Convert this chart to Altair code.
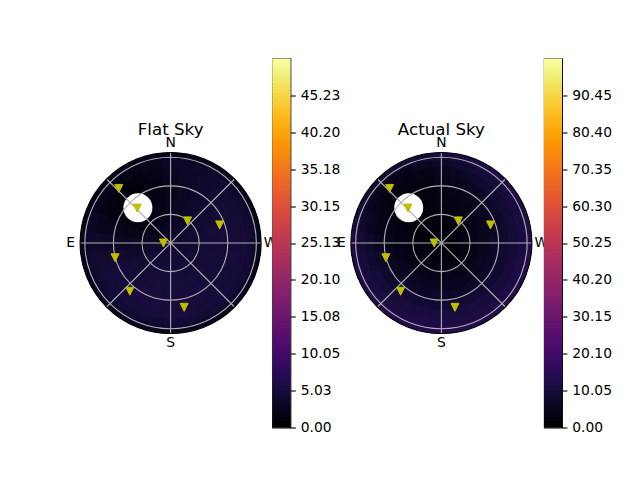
import numpy as np
import pandas as pd
import altair as alt

# ---------------- data ----------------
R_MAX = 95.0                      # zenith-distance limit of the polar axes
R_GRID = [30, 60, 90]             # grid circles
SPOKES = [0, 45, 90, 135]         # radial grid lines (full diameters)
COMPASS = ["N", "E", "S", "W"]
COMPASS_AZ = [0, 90, 180, 270]

SECTOR_AZ = [0, 15, 30, 45, 60, 75, 90, 105, 120, 135, 150, 165,
             180, 195, 210, 225, 240, 255, 270, 285, 300, 315, 330, 345]   # sector centres
SECTOR_HALF = 7.5
RING_EDGES = [0, 10, 20, 30, 40, 50, 60, 70, 80, 87, 91, 95]

# sky brightness per sector (rows) and ring (columns), Flat Sky
FLAT_SKY = [
    [3.6, 3.3, 3.0, 2.7, 2.5, 2.5, 2.6, 2.9, 3.3, 3.0, 2.4],
    [3.4, 3.0, 2.5, 2.0, 1.7, 1.6, 1.7, 2.0, 2.6, 2.6, 2.2],
    [3.2, 2.7, 2.0, 1.4, 1.0, 0.9, 1.0, 1.3, 2.0, 2.2, 2.0],
    [3.2, 2.6, 1.9, 1.2, 0.8, 0.7, 0.8, 1.2, 1.9, 2.1, 2.0],
    [3.3, 2.8, 2.1, 1.5, 1.1, 1.0, 1.2, 1.6, 2.3, 2.4, 2.1],
    [3.5, 3.2, 2.8, 2.3, 2.0, 2.0, 2.2, 2.6, 3.0, 2.9, 2.3],
    [3.8, 3.6, 3.4, 3.2, 3.1, 3.2, 3.4, 3.6, 3.6, 3.3, 2.5],
    [4.0, 4.0, 4.0, 3.9, 3.9, 4.0, 4.1, 4.2, 4.0, 3.5, 2.6],
    [4.2, 4.3, 4.4, 4.5, 4.6, 4.7, 4.7, 4.6, 4.3, 3.7, 2.7],
    [4.3, 4.4, 4.5, 4.7, 4.8, 4.9, 4.9, 4.8, 4.4, 3.8, 2.7],
    [4.3, 4.4, 4.6, 4.8, 4.9, 5.0, 5.0, 4.9, 4.5, 3.8, 2.8],
    [4.3, 4.5, 4.7, 4.9, 5.0, 5.1, 5.1, 5.0, 4.5, 3.9, 2.8],
    [4.3, 4.5, 4.7, 4.9, 5.0, 5.1, 5.2, 5.0, 4.5, 3.9, 2.8],
    [4.3, 4.5, 4.7, 4.9, 5.0, 5.1, 5.1, 5.0, 4.5, 3.9, 2.8],
    [4.3, 4.5, 4.7, 4.8, 5.0, 5.0, 5.0, 4.9, 4.5, 3.8, 2.8],
    [4.2, 4.4, 4.6, 4.8, 4.9, 5.0, 5.0, 4.9, 4.4, 3.8, 2.7],
    [4.2, 4.4, 4.6, 4.7, 4.8, 4.9, 4.9, 4.8, 4.4, 3.8, 2.7],
    [4.1, 4.3, 4.5, 4.6, 4.8, 4.9, 4.9, 4.8, 4.3, 3.7, 2.7],
    [4.1, 4.3, 4.4, 4.5, 4.7, 4.8, 4.8, 4.7, 4.3, 3.7, 2.6],
    [4.0, 4.2, 4.3, 4.4, 4.6, 4.7, 4.7, 4.6, 4.2, 3.6, 2.6],
    [4.0, 4.1, 4.2, 4.3, 4.4, 4.6, 4.6, 4.5, 4.1, 3.6, 2.6],
    [3.9, 4.0, 4.0, 4.1, 4.2, 4.3, 4.4, 4.3, 4.0, 3.5, 2.6],
    [3.8, 3.8, 3.7, 3.7, 3.8, 3.9, 4.0, 4.0, 3.8, 3.4, 2.5],
    [3.7, 3.5, 3.3, 3.2, 3.1, 3.2, 3.3, 3.5, 3.6, 3.2, 2.5],
]

# Actual Sky
ACTUAL_SKY = [
    [1.1, 1.5, 2.0, 2.4, 2.8, 3.2, 4.0, 5.2, 7.0, 9.0, 10.5],
    [1.0, 1.4, 1.8, 2.0, 2.2, 2.5, 3.0, 4.0, 5.8, 8.0, 9.8],
    [1.0, 1.3, 1.5, 1.6, 1.6, 1.8, 2.2, 3.0, 4.8, 7.2, 9.2],
    [1.0, 1.3, 1.5, 1.6, 1.6, 1.7, 2.1, 2.9, 4.6, 7.0, 9.0],
    [1.1, 1.4, 1.7, 1.9, 2.0, 2.3, 3.0, 4.0, 5.6, 7.8, 9.6],
    [1.1, 1.5, 1.9, 2.3, 2.7, 3.2, 4.2, 5.6, 7.2, 9.0, 10.5],
    [1.2, 1.6, 2.2, 2.8, 3.5, 4.4, 5.6, 7.2, 8.8, 10.3, 11.5],
    [1.3, 1.7, 2.4, 3.3, 4.2, 5.3, 6.7, 8.3, 9.8, 11.2, 12.2],
    [1.3, 1.8, 2.6, 3.6, 4.8, 6.2, 7.7, 9.2, 10.6, 11.9, 12.8],
    [1.4, 1.9, 2.8, 3.9, 5.2, 6.6, 8.1, 9.6, 11.0, 12.2, 13.1],
    [1.4, 2.0, 3.0, 4.2, 5.5, 7.0, 8.5, 10.0, 11.3, 12.5, 13.3],
    [1.4, 2.0, 3.0, 4.2, 5.6, 7.1, 8.6, 10.1, 11.4, 12.6, 13.4],
    [1.4, 2.0, 3.0, 4.2, 5.6, 7.1, 8.6, 10.1, 11.4, 12.6, 13.4],
    [1.4, 2.0, 3.0, 4.2, 5.6, 7.1, 8.6, 10.1, 11.4, 12.6, 13.4],
    [1.4, 2.0, 3.0, 4.2, 5.5, 7.0, 8.5, 10.0, 11.3, 12.5, 13.3],
    [1.4, 2.0, 3.0, 4.1, 5.4, 6.9, 8.4, 9.9, 11.2, 12.4, 13.2],
    [1.4, 2.0, 3.0, 4.1, 5.4, 6.8, 8.3, 9.8, 11.1, 12.3, 13.1],
    [1.4, 2.0, 2.9, 4.0, 5.3, 6.7, 8.1, 9.6, 11.0, 12.2, 13.0],
    [1.4, 2.0, 2.9, 4.0, 5.2, 6.6, 8.0, 9.5, 10.9, 12.1, 12.9],
    [1.3, 1.9, 2.8, 3.9, 5.0, 6.3, 7.7, 9.2, 10.6, 11.9, 12.8],
    [1.3, 1.9, 2.7, 3.7, 4.8, 6.0, 7.4, 8.8, 10.3, 11.7, 12.6],
    [1.3, 1.8, 2.6, 3.5, 4.5, 5.6, 6.9, 8.3, 9.8, 11.3, 12.3],
    [1.2, 1.7, 2.4, 3.2, 4.0, 5.0, 6.2, 7.6, 9.2, 10.8, 12.0],
    [1.2, 1.6, 2.2, 2.8, 3.4, 4.1, 5.1, 6.4, 8.1, 9.9, 11.2],
]

STAR_AZ = [43.5, 43.7, 322.6, 290.2, 90.0, 104.9, 139.8, 191.9]
STAR_R = [79.0, 50.7, 29.2, 54.9, 7.6, 60.3, 66.3, 69.0]

MOON_AZ = [42.8]
MOON_R = [50.5]

FLAT_VMAX = 50.252
FLAT_TICKS = [0, 5.0252, 10.0504, 15.0756, 20.1008, 25.126, 30.1512, 35.1764, 40.2016, 45.2268]
ACTUAL_VMAX = 100.5
ACTUAL_TICKS = [0, 10.05, 20.10, 30.15, 40.20, 50.25, 60.30, 70.35, 80.40, 90.45]

# ---------------- layout / style ----------------
PW = 181          # polar disc diameter (px)
H = 369           # panel height (px)
R_PX = PW / 2.0
CB_W = 18
GAP = 11.3
EXTRA_LEFT = 49.2  # extra room on the left of the second polar panel
R_LABEL = 105.0   # compass labels radius (data units)
FONT = "DejaVu Sans"
GRID_C = "#b0b0b0"
STAR_C = "#bfbf00"


def heat_frame(grid):
    rows = []
    n_r = len(RING_EDGES) - 1
    for i, az in enumerate(SECTOR_AZ):
        for j in range(n_r):
            rows.append({
                "t0": 360 - (az + SECTOR_HALF),
                "t1": 360 - (az - SECTOR_HALF) + 0.4,
                "r0": RING_EDGES[j],
                "r1": RING_EDGES[j + 1] + (0.3 if j < n_r - 1 else 0),
                "v": grid[i][j],
            })
    return pd.DataFrame(rows)


def polar(grid, vmax, title, extra_left=0.0):
    width = PW + extra_left
    cscale = alt.Scale(scheme="inferno", domain=[0, vmax])
    rscale = alt.Scale(type="linear", domain=[0, R_MAX], range=[0, R_PX])
    tscale = alt.Scale(domain=[0, 360], range=[0, 2 * np.pi])
    yext = R_MAX * H / PW
    xs = alt.Scale(domain=[-R_MAX - extra_left * R_MAX / R_PX, R_MAX], nice=False, zero=False)
    ys = alt.Scale(domain=[-yext, yext], nice=False, zero=False)
    cx = alt.XDatum(0, scale=xs, axis=None)
    cy = alt.YDatum(0, scale=ys, axis=None)

    base = alt.Chart(pd.DataFrame({"r": [R_MAX], "v": [grid[12][5]]})).mark_arc(
        theta=0, theta2=2 * np.pi
    ).encode(
        x=cx, y=cy,
        radius=alt.Radius("r:Q", scale=rscale, stack=None),
        color=alt.Color("v:Q", scale=cscale, legend=None),
    )

    cells = alt.Chart(heat_frame(grid)).mark_arc().encode(
        x=cx, y=cy,
        theta=alt.Theta("t0:Q", scale=tscale, stack=None),
        theta2="t1:Q",
        radius=alt.Radius("r1:Q", scale=rscale, stack=None),
        radius2="r0:Q",
        color=alt.Color("v:Q", scale=cscale, legend=None),
    )

    def to_xy(ch):
        return ch.transform_calculate(
            x="-datum.r*sin(datum.az*PI/180)",
            y="datum.r*cos(datum.az*PI/180)",
        )

    moon = to_xy(alt.Chart(pd.DataFrame({"az": MOON_AZ, "r": MOON_R}))).mark_point(
        shape="circle", filled=True, color="white", opacity=1, size=841
    ).encode(x=alt.X("x:Q", scale=xs, axis=None), y=alt.Y("y:Q", scale=ys, axis=None))

    rings = alt.Chart(pd.DataFrame({"r": R_GRID})).mark_arc(
        theta=0, theta2=2 * np.pi, filled=False, stroke=GRID_C, strokeWidth=1.1
    ).encode(x=cx, y=cy, radius=alt.Radius("r:Q", scale=rscale, stack=None))

    spokes = alt.Chart(pd.DataFrame({"az": SPOKES})).transform_calculate(
        x=f"-{R_MAX}*sin(datum.az*PI/180)",
        y=f"{R_MAX}*cos(datum.az*PI/180)",
        x2=f"{R_MAX}*sin(datum.az*PI/180)",
        y2=f"-{R_MAX}*cos(datum.az*PI/180)",
    ).mark_rule(color=GRID_C, strokeWidth=1.1).encode(
        x=alt.X("x:Q", scale=xs, axis=None), y=alt.Y("y:Q", scale=ys, axis=None),
        x2="x2:Q", y2="y2:Q",
    )

    spine = alt.Chart(pd.DataFrame({"r": [R_MAX]})).mark_arc(
        theta=0, theta2=2 * np.pi, filled=False, stroke="black", strokeWidth=1.1
    ).encode(x=cx, y=cy, radius=alt.Radius("r:Q", scale=rscale, stack=None))

    stars = to_xy(alt.Chart(pd.DataFrame({"az": STAR_AZ, "r": STAR_R}))).mark_point(
        shape="M0,1L-1,-1L1,-1Z", filled=True, color=STAR_C, stroke=STAR_C,
        strokeWidth=1, opacity=1, size=64
    ).encode(x=alt.X("x:Q", scale=xs, axis=None), y=alt.Y("y:Q", scale=ys, axis=None))

    labels = alt.Chart(pd.DataFrame({"az": COMPASS_AZ, "lab": COMPASS})).transform_calculate(
        x=f"-{R_LABEL}*sin(datum.az*PI/180)",
        y=f"{R_LABEL}*cos(datum.az*PI/180)",
    ).mark_text(font=FONT, fontSize=13.9, color="black", align="center", baseline="middle").encode(
        x=alt.X("x:Q", scale=xs, axis=None), y=alt.Y("y:Q", scale=ys, axis=None), text="lab:N"
    )

    return alt.layer(base, cells, moon, rings, spokes, spine, stars, labels).properties(
        width=width, height=H,
        title=alt.TitleParams(title, font=FONT, fontSize=16.7, fontWeight="normal", color="black",
                              anchor="middle", frame="group", baseline="alphabetic",
                              offset=-92.8, dx=extra_left / 2.0),
    )


def colorbar(vmax, ticks):
    lv = np.linspace(0, vmax, 257)
    step = lv[1] - lv[0]
    df = pd.DataFrame({"v0": lv[:-1], "v1": np.minimum(lv[1:] + 0.6 * step, vmax)})
    df["c"] = lv[:-1] + step / 2
    cscale = alt.Scale(scheme="inferno", domain=[0, vmax])
    return alt.Chart(df).mark_rect().encode(
        x=alt.value(0), x2=alt.value(CB_W),
        y=alt.Y("v0:Q", scale=alt.Scale(domain=[0, vmax], nice=False, zero=False),
                axis=alt.Axis(orient="right", values=ticks, format=".2f", title=None, grid=False,
                              domain=False, tickColor="black", tickWidth=1.1, tickSize=4.9,
                              labelPadding=4.9, labelFont=FONT, labelFontSize=13.9,
                              labelColor="black", labelFlush=False, labelOverlap=False)),
        y2="v1:Q",
        color=alt.Color("c:Q", scale=cscale, legend=None),
    ).properties(width=CB_W, height=H, view=alt.ViewBackground(stroke="black", strokeWidth=1.1))


chart = alt.hconcat(
    polar(FLAT_SKY, FLAT_VMAX, "Flat Sky"),
    colorbar(FLAT_VMAX, FLAT_TICKS),
    polar(ACTUAL_SKY, ACTUAL_VMAX, "Actual Sky", extra_left=EXTRA_LEFT),
    colorbar(ACTUAL_VMAX, ACTUAL_TICKS),
    spacing=GAP, bounds="flush",
).resolve_scale(
    color="independent", x="independent", y="independent"
).properties(
    padding={"left": 58.1, "top": 49.5, "right": 0, "bottom": 0},
    background="white",
).configure_view(strokeWidth=0)

chart.save("out.html", embed_options={"renderer": "svg", "actions": False})
